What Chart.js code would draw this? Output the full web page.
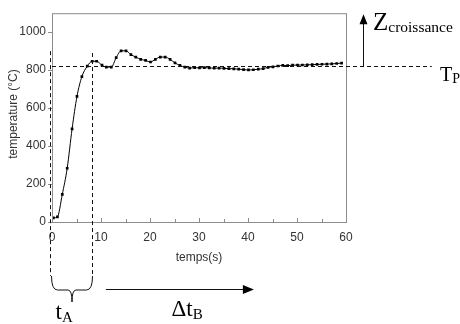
<!DOCTYPE html>
<html>
<head>
<meta charset="utf-8">
<script src="https://cdn.jsdelivr.net/npm/chart.js@4.4.1/dist/chart.umd.min.js"></script>
<style>
  html, body { margin: 0; padding: 0; background: #fff; }
  canvas { display: block; }
</style>
</head>
<body>
<canvas id="growthChart" width="460" height="324"></canvas>
<script>
(function () {
  "use strict";

  // measured temperature during the run (s, °C)
  var times = [0.3, 1.1, 2.1, 3.1, 4.1, 5.1, 6.1, 7.2, 8.2, 9.1,
    10.2, 11.1, 12.1, 13.1, 14.1, 15.1, 16.1, 17.1, 18.1, 19.1,
    20.1, 21.1, 22.1, 23.1, 24.1, 25.1, 26.1, 27.1, 28.1, 29.1,
    30.1, 31.1, 32.1, 33.1, 34.1, 35.1, 36.1, 37.1, 38.1, 39.1,
    40.1, 41.1, 42.1, 43.1, 44.1, 45.1, 46.1, 47.1, 48.1, 49.1,
    50.1, 51.1, 52.1, 53.1, 54.1, 55.1, 56.1, 57.1, 58.1, 59.1];
  var temps = [22, 27, 146, 283, 491, 662, 766, 821, 847, 847,
    826, 816, 816, 866, 902, 902, 882, 869, 857, 851,
    843, 857, 869, 869, 857, 838, 825, 816, 811, 813,
    812, 813, 812, 810, 811, 809, 808, 807, 805, 803,
    801, 802, 805, 808, 815, 817, 822, 825, 824, 826,
    827, 827, 828, 829, 830, 831, 832, 833, 835, 837];

  var xTicks = [0, 10, 20, 30, 40, 50, 60];
  var xMinorTicks = [5, 15, 25, 35, 45, 55];
  var yTicks = [0, 200, 400, 600, 800, 1000];

  var plateauTemp = 820; // T_P
  var rampEnd = 8.2;     // end of t_A
  var rampStart = -0.4;

  var SANS = '"Liberation Sans", Arial, sans-serif';
  var SERIF = '"Liberation Serif", "Times New Roman", serif';

  var points = times.map(function (t, i) { return { x: t, y: temps[i] }; });

  function dashedLine(ctx, x1, y1, x2, y2) {
    ctx.beginPath();
    ctx.moveTo(x1, y1);
    ctx.lineTo(x2, y2);
    ctx.stroke();
  }

  function arrowHead(ctx, x, y, dir) {
    // dir: "up" or "right", tip at (x, y)
    ctx.beginPath();
    if (dir === "up") {
      ctx.moveTo(x, y);
      ctx.lineTo(x - 4, y + 10);
      ctx.lineTo(x + 4, y + 10);
    } else {
      ctx.moveTo(x, y);
      ctx.lineTo(x - 11, y - 4.5);
      ctx.lineTo(x - 11, y + 4.5);
    }
    ctx.closePath();
    ctx.fill();
  }

  function subText(ctx, main, sub, x, y, mainSize, subSize, drop) {
    ctx.font = mainSize + "px " + SERIF;
    ctx.fillText(main, x, y);
    var w = ctx.measureText(main).width;
    ctx.font = subSize + "px " + SERIF;
    ctx.fillText(sub, x + w, y + drop);
  }

  var annotate = {
    id: "annotate",
    afterDraw: function (chart) {
      var ctx = chart.ctx, a = chart.chartArea;
      var xs = chart.scales.x, ys = chart.scales.y;
      ctx.save();

      // frame
      ctx.strokeStyle = "#8c8c8c";
      ctx.lineWidth = 1;
      ctx.strokeRect(a.left + 0.5, a.top + 0.5, a.right - a.left, a.bottom - a.top);

      // tick marks
      ctx.beginPath();
      yTicks.forEach(function (v) {
        var y = Math.round(ys.getPixelForValue(v)) + 0.5;
        ctx.moveTo(a.left - 4, y);
        ctx.lineTo(a.left + 1, y);
      });
      xTicks.forEach(function (v) {
        var x = Math.round(xs.getPixelForValue(v)) + 0.5;
        ctx.moveTo(x, a.bottom);
        ctx.lineTo(x, a.bottom - 4);
      });
      xMinorTicks.forEach(function (v) {
        var x = Math.round(xs.getPixelForValue(v)) + 0.5;
        ctx.moveTo(x, a.bottom);
        ctx.lineTo(x, a.bottom - 3);
      });
      ctx.stroke();

      // axis titles
      ctx.fillStyle = "#333";
      ctx.textAlign = "center";
      ctx.textBaseline = "middle";
      ctx.font = "12px " + SANS;
      ctx.fillText("temps(s)", (a.left + a.right) / 2, a.bottom + 36);
      ctx.save();
      ctx.translate(14, 114);
      ctx.rotate(-Math.PI / 2);
      ctx.fillText("temperature (\u00B0C)", 0, 0);
      ctx.restore();

      // dashed guides
      ctx.strokeStyle = "#111";
      ctx.setLineDash([4, 3]);
      var yP = Math.round(ys.getPixelForValue(plateauTemp)) + 0.5;
      dashedLine(ctx, xs.getPixelForValue(0), yP, xs.getPixelForValue(77.5), yP);
      var xL = Math.round(xs.getPixelForValue(rampStart)) + 0.5;
      var xR = Math.round(xs.getPixelForValue(rampEnd)) + 0.5;
      dashedLine(ctx, xL, ys.getPixelForValue(900), xL, a.bottom + 54);
      dashedLine(ctx, xR, ys.getPixelForValue(890), xR, a.bottom + 54);
      ctx.setLineDash([]);

      // brace under t_A
      var bl = xL + 1, br = xR, bm = (bl + br) / 2;
      var bTop = a.bottom + 54, bMid = a.bottom + 68, bTip = a.bottom + 80;
      ctx.beginPath();
      ctx.moveTo(bl, bTop);
      ctx.quadraticCurveTo(bl, bMid, bl + 6, bMid);
      ctx.lineTo(bm - 4, bMid);
      ctx.quadraticCurveTo(bm, bMid, bm, bTip);
      ctx.quadraticCurveTo(bm, bMid, bm + 4, bMid);
      ctx.lineTo(br - 6, bMid);
      ctx.quadraticCurveTo(br, bMid, br, bTop);
      ctx.stroke();

      // Δt_B arrow
      ctx.fillStyle = "#000";
      var yB = a.bottom + 67.5;
      var xB0 = xs.getPixelForValue(11), xB1 = xs.getPixelForValue(41.2);
      ctx.beginPath();
      ctx.moveTo(xB0, yB);
      ctx.lineTo(xB1 - 8, yB);
      ctx.stroke();
      arrowHead(ctx, xB1, yB, "right");

      // Z_croissance arrow
      var xZ = Math.round(xs.getPixelForValue(63.4)) + 0.5;
      ctx.beginPath();
      ctx.moveTo(xZ, yP);
      ctx.lineTo(xZ, a.top + 8);
      ctx.stroke();
      arrowHead(ctx, xZ, a.top + 1, "up");

      // labels
      ctx.fillStyle = "#000";
      ctx.textAlign = "left";
      ctx.textBaseline = "alphabetic";
      subText(ctx, "Z", "croissance", a.right + 27, 30, 25, 15.5, 2);
      subText(ctx, "T", "P", a.right + 94, 81, 20, 14, 2);
      subText(ctx, "t", "A", bl + 4, a.bottom + 97, 23, 15, 3);
      subText(ctx, "\u0394t", "B", xs.getPixelForValue(24.4), a.bottom + 94, 23, 15, 3);

      ctx.restore();
    }
  };

  new Chart(document.getElementById("growthChart").getContext("2d"), {
    type: "scatter",
    data: {
      datasets: [
        {
          data: points,
          showLine: true,
          borderColor: "#000",
          borderWidth: 1,
          backgroundColor: "#000",
          pointStyle: "rect",
          pointRadius: 1.9,
          pointBorderWidth: 0,
          cubicInterpolationMode: "monotone",
        },
      ],
    },
    options: {
      responsive: false,
      animation: false,
      devicePixelRatio: 1,
      layout: { padding: { top: 4, right: 114, left: 0, bottom: 0 } },
      plugins: { legend: { display: false }, tooltip: { enabled: false } },
      scales: {
        x: {
          type: "linear",
          min: 0,
          max: 60,
          grid: { display: false, drawTicks: false },
          border: { display: false },
          ticks: { stepSize: 10, padding: 8, color: "#333", font: { family: SANS, size: 12 } },
          afterFit: function (s) { s.height = 102; },
        },
        y: {
          type: "linear",
          min: 0,
          max: 1100,
          grid: { display: false, drawTicks: false },
          border: { display: false },
          ticks: {
            stepSize: 200,
            padding: 6,
            color: "#333",
            font: { family: SANS, size: 12 },
            callback: function (v) { return String(v); },
          },
          afterBuildTicks: function (s) {
            s.ticks = yTicks.map(function (v) { return { value: v }; });
          },
          afterFit: function (s) { s.width = 52; },
        },
      },
    },
    plugins: [annotate],
  });
})();
</script>
</body>
</html>
